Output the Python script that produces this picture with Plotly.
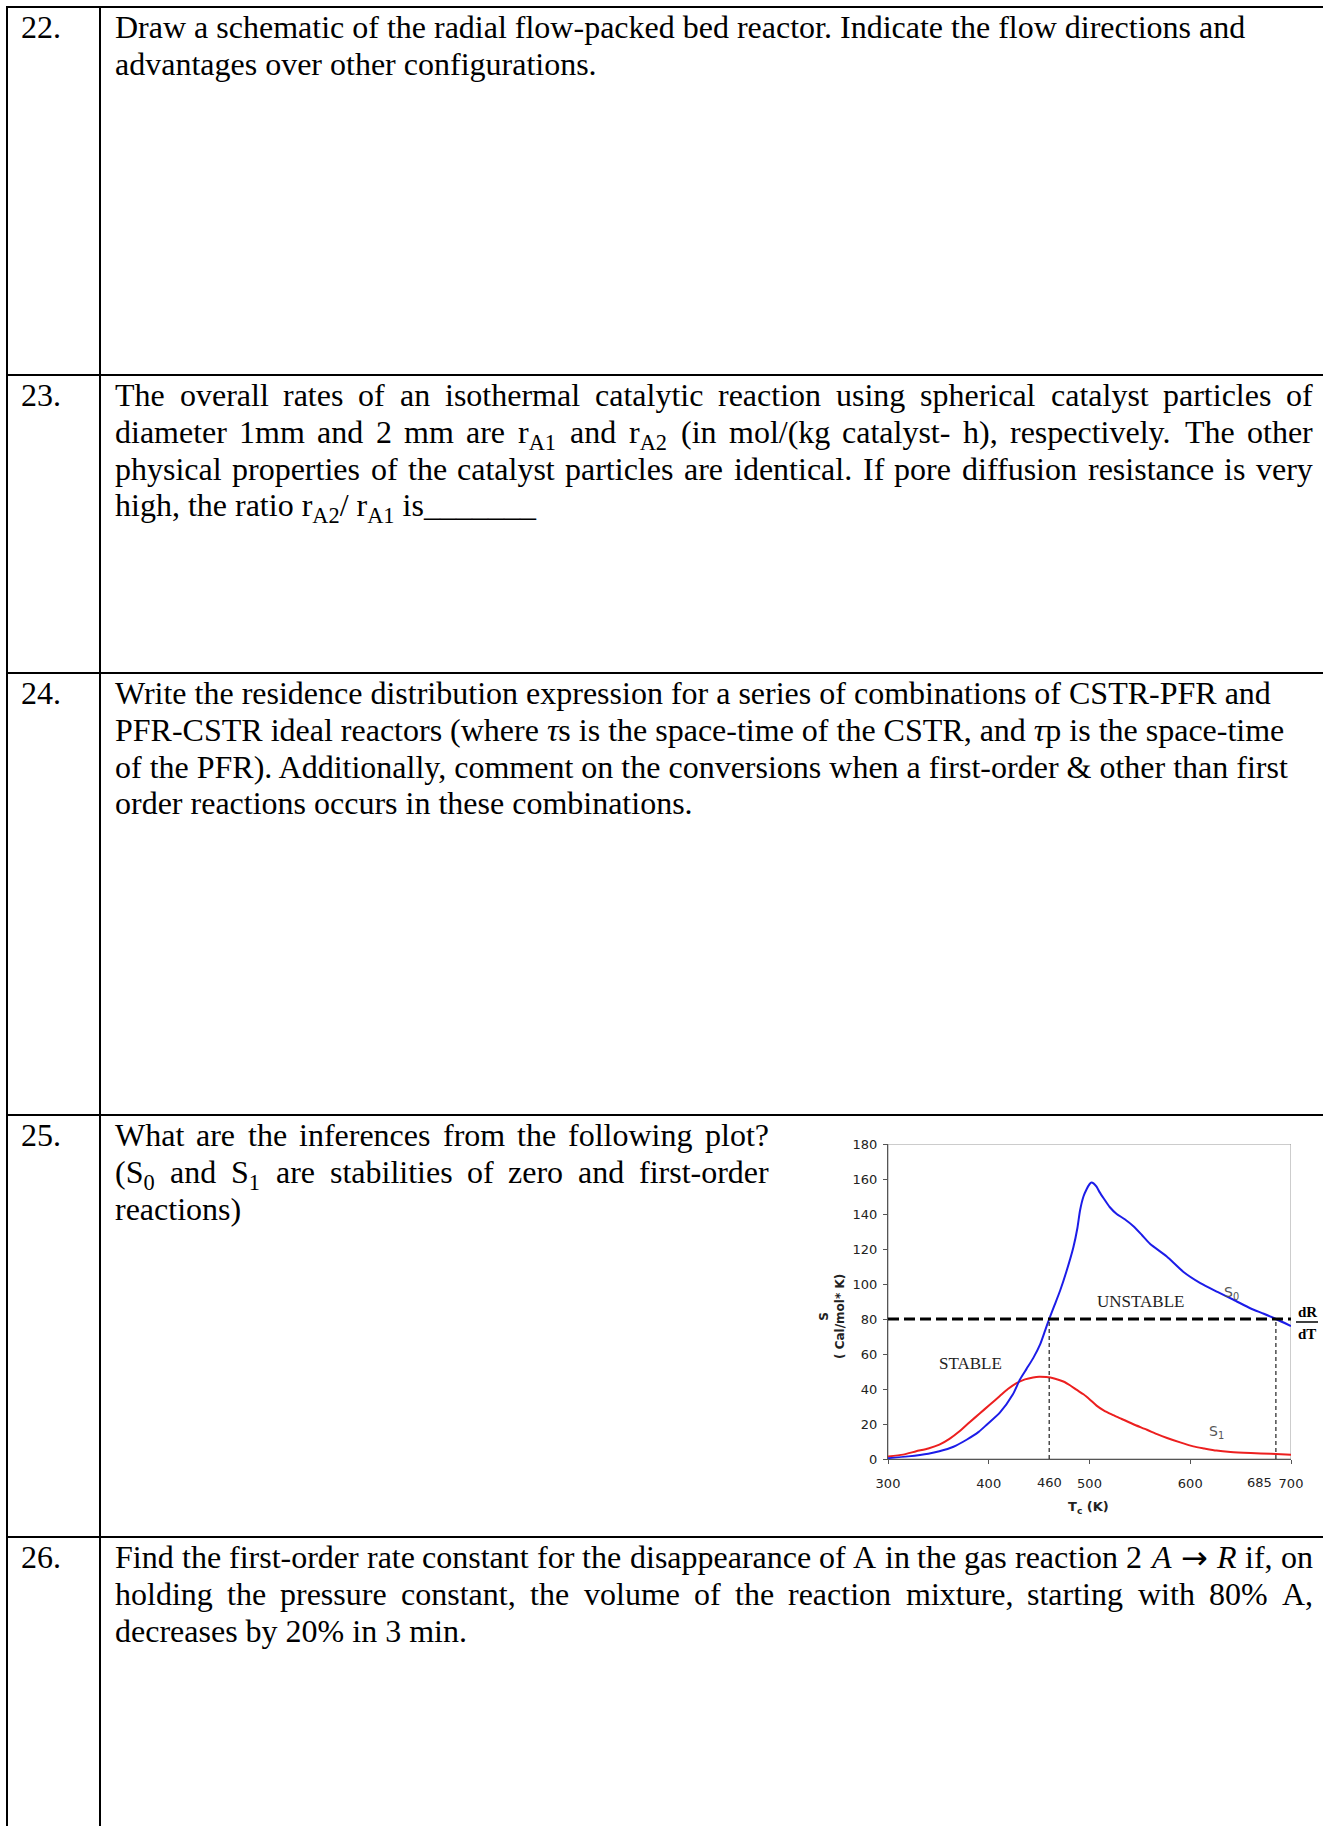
import re
import plotly.graph_objects as go

W, H = 1323, 1826

# ---------------- stability curves (S vs coolant temperature) ----------------
tc_s0 = [300, 320, 340, 351, 365, 378, 390, 398, 411, 424, 431, 437.5, 444, 451, 456, 460,
         465, 470.7, 477, 484, 488, 490.6, 494, 497, 500, 502, 504, 507, 510, 514, 520, 527,
         535, 543.6, 552, 560, 576.7, 593, 610, 627, 643, 660, 673, 685, 700]
s0 = [0.5, 1.5, 3, 4.4, 7, 11, 15.5, 19.6, 26.5, 37, 45.5, 51.5, 57.5, 65.5, 73.5, 80,
      87.5, 96, 107, 121, 132, 142, 150, 154, 157, 158, 157.5, 155.6, 152.5, 149, 144, 140,
      137, 133, 128, 123, 115.7, 107, 100.5, 95.5, 91, 86, 83, 80, 76]

tc_s1 = [300, 315, 328, 340, 351, 361, 371, 381, 391, 401, 411, 419, 427.6, 436, 444, 450,
         457, 465, 474, 481, 487, 494, 500.5, 507, 514, 522, 530, 543, 557, 567, 577, 590,
         603, 614, 626, 640, 660, 680, 700]
s1 = [1.5, 2.5, 4.4, 6, 8.2, 11.5, 15.8, 21, 26, 31, 36, 40, 43.4, 45.5, 46.6, 47,
      46.8, 46, 44.3, 42, 39.6, 37, 33.9, 30.5, 27.8, 25.5, 23.4, 20, 16.7, 14.2, 12, 9.5,
      7.2, 6, 4.8, 4, 3.4, 3, 2.5]

dR_dT = 80                     # heat-removal slope line
tc_marked = [460, 685]         # intersections with S0
x_ticks = [300, 400, 500, 600, 700]
y_ticks = [0, 20, 40, 60, 80, 100, 120, 140, 160, 180]

# ---------------- question table ----------------
q_numbers = ["22.", "23.", "24.", "25.", "26."]
row_tops = [7, 375, 673, 1115, 1537]
row_right = [1313, 1313, 1313, 769, 1313]

q_lines = [
    [("Draw a schematic of the radial flow-packed bed reactor. Indicate the flow directions and", False),
     ("advantages over other configurations.", False)],
    [("The overall rates of an isothermal catalytic reaction using spherical catalyst particles of", True),
     ("diameter 1mm and 2 mm are r<sub>A1</sub> and r<sub>A2</sub> (in mol/(kg catalyst- h), respectively. The other", True),
     ("physical properties of the catalyst particles are identical. If pore diffusion resistance is very", True),
     ("high, the ratio r<sub>A2</sub>/ r<sub>A1</sub> is_______", False)],
    [("Write the residence distribution expression for a series of combinations of CSTR-PFR and", False),
     ("PFR-CSTR ideal reactors (where <i>τ</i>s is the space-time of the CSTR, and <i>τ</i>p is the space-time", False),
     ("of the PFR). Additionally, comment on the conversions when a first-order &amp; other than first", False),
     ("order reactions occurs in these combinations.", False)],
    [("What are the inferences from the following plot?", True),
     ("(S<sub>0</sub> and S<sub>1</sub> are stabilities of zero and first-order", True),
     ("reactions)", False)],
    [("Find the first-order rate constant for the disappearance of A in the gas reaction 2 <i>A</i> → <i>R</i> if, on", True),
     ("holding the pressure constant, the volume of the reaction mixture, starting with 80% A,", True),
     ("decreases by 20% in 3 min.", False)],
]

SERIF = "Liberation Serif, Times New Roman, serif"
SANS = "DejaVu Sans, Verdana, sans-serif"
ARROW_FONT = "DejaVu Sans"
FS = 32            # body font size (px)
LINE_H = 36.8      # line pitch
ASC = 0.891        # serif ascent (em)
TEXT_X = 115
NUM_X = 21

# Times-style advance widths (1/1000 em) used to lay out justified lines
_chars = (" !\"#$%&'()*+,-./0123456789:;<=>?@ABCDEFGHIJKLMNOPQRSTUVWXYZ[\\]^_`"
          "abcdefghijklmnopqrstuvwxyz{|}~")
_adv = [250, 333, 408, 500, 500, 833, 778, 180, 333, 333, 500, 564, 250, 333, 250, 278,
        500, 500, 500, 500, 500, 500, 500, 500, 500, 500, 278, 278, 564, 564, 564, 444, 921,
        722, 667, 667, 722, 611, 556, 722, 722, 333, 389, 722, 611, 889, 722, 722, 556, 722,
        667, 556, 611, 722, 722, 944, 722, 722, 611, 333, 278, 333, 469, 500, 333,
        444, 500, 444, 500, 444, 333, 500, 500, 278, 278, 500, 278, 778, 500, 500, 500, 500,
        333, 389, 278, 500, 500, 722, 500, 500, 444, 480, 200, 480, 541]
ADV = dict(zip(_chars, _adv))
ADV.update({"τ": 440, "→": 838})
SUB_SCALE = 0.75   # room left for subscripts when spacing words


def text_width(s, size):
    total, scale = 0.0, 1.0
    for tok in re.split(r"(<[^>]+>)", s):
        if tok.startswith("<"):
            if tok == "<sub>":
                scale = SUB_SCALE
            elif tok == "</sub>":
                scale = 1.0
            continue
        for ch in tok.replace("&amp;", "&"):
            total += ADV.get(ch, 500) * scale
    return total / 1000.0 * size


def px(x):
    return x / W


def py(y):
    return 1 - y / H


annotations = []
shapes = []


def body_text(text, x, baseline, anchor="left", size=FS, family=SERIF):
    annotations.append(dict(
        text=text, xref="paper", yref="paper", x=px(x), y=py(baseline - ASC * size),
        xanchor=anchor, yanchor="top", showarrow=False, borderpad=0, borderwidth=0,
        font=dict(family=family, size=size, color="#000")))


for num, top, right, lines in zip(q_numbers, row_tops, row_right, q_lines):
    base0 = top + 30.5
    body_text(num, NUM_X, base0)
    for k, (line, justify) in enumerate(lines):
        b = base0 + k * LINE_H
        if not justify:
            body_text(line, TEXT_X, b)
            continue
        words = line.split(" ")
        widths = [text_width(w, FS) for w in words]
        gap = (right - TEXT_X - sum(widths)) / (len(words) - 1)
        x = TEXT_X
        for i, (w, wd) in enumerate(zip(words, widths)):
            fam = ARROW_FONT if w == "→" else SERIF
            if i == len(words) - 1:
                body_text(w, right, b, anchor="right", family=fam)
            else:
                body_text(w, x, b, family=fam)
            x += wd + gap

# table rules
rule = dict(color="#000", width=2)
for top in row_tops:
    shapes.append(dict(type="line", xref="paper", yref="paper", x0=px(6), x1=1,
                       y0=py(top), y1=py(top), line=rule))
for xv in (7, 100):
    shapes.append(dict(type="line", xref="paper", yref="paper", x0=px(xv), x1=px(xv),
                       y0=py(row_tops[0] - 1), y1=0, line=rule))

# ---------------- chart ----------------
PLOT_L, PLOT_R, PLOT_T, PLOT_B = 888, 1291, 1144, 1459

fig = go.Figure()
fig.add_trace(go.Scatter(x=tc_s1, y=s1, mode="lines", name="S1",
                         line=dict(color="#ec1f1f", width=2, shape="spline", smoothing=0.6),
                         showlegend=False))
fig.add_trace(go.Scatter(x=tc_s0, y=s0, mode="lines", name="S0",
                         line=dict(color="#1c1ce8", width=2, shape="spline", smoothing=0.6),
                         showlegend=False))

# plot-area frame
shapes.append(dict(type="rect", xref="x", yref="y", x0=300, x1=700, y0=0, y1=180,
                   line=dict(color="#9a9a9a", width=1), layer="below"))
# dR/dT line
shapes.append(dict(type="line", xref="x", yref="y", x0=300, x1=700, y0=dR_dT, y1=dR_dT,
                   line=dict(color="#000", width=3.2, dash="11px,5px")))
for t in tc_marked:
    shapes.append(dict(type="line", xref="x", yref="y", x0=t, x1=t, y0=0, y1=dR_dT,
                       line=dict(color="#222", width=1.2, dash="4px,3px")))

tick_font = dict(family=SANS, size=13, color="#222")
annotations.append(dict(text=str(tc_marked[0]), xref="x", yref="paper", x=tc_marked[0],
                        y=py(1482), xanchor="center", yanchor="middle", showarrow=False,
                        font=tick_font))
annotations.append(dict(text=str(tc_marked[1]), xref="x", yref="paper", x=tc_marked[1],
                        y=py(1482), xanchor="right", yanchor="middle", showarrow=False,
                        xshift=-2, font=tick_font))

# axis titles
annotations.append(dict(text="<b>T<sub>c</sub> (K)</b>", xref="paper", yref="paper",
                        x=px(1088), y=py(1507), xanchor="center", yanchor="middle",
                        showarrow=False, font=dict(family=SANS, size=13, color="#222")))
annotations.append(dict(text="<b>S<br>( Cal/mol* K)</b>", xref="paper", yref="paper",
                        x=px(832), y=py(1317), xanchor="center", yanchor="middle",
                        textangle=-90, showarrow=False,
                        font=dict(family=SANS, size=12, color="#222")))

# region and curve labels
annotations += [
    dict(text="UNSTABLE", x=551, y=90, xref="x", yref="y", showarrow=False,
         font=dict(family=SERIF, size=17, color="#222")),
    dict(text="STABLE", x=382, y=54.7, xref="x", yref="y", showarrow=False,
         font=dict(family=SERIF, size=17, color="#222")),
    dict(text="S<sub>0</sub>", x=641, y=95, xref="x", yref="y", showarrow=False,
         font=dict(family=SANS, size=14, color="#555")),
    dict(text="S<sub>1</sub>", x=626, y=15.6, xref="x", yref="y", showarrow=False,
         font=dict(family=SANS, size=14, color="#555")),
    dict(text="<b>dR</b>", xref="paper", yref="paper", x=px(1307), y=py(1312),
         xanchor="center", yanchor="middle", showarrow=False,
         font=dict(family=SERIF, size=15, color="#000")),
    dict(text="<b>dT</b>", xref="paper", yref="paper", x=px(1307), y=py(1334),
         xanchor="center", yanchor="middle", showarrow=False,
         font=dict(family=SERIF, size=15, color="#000")),
]
shapes.append(dict(type="line", xref="paper", yref="paper", x0=px(1296), x1=px(1318),
                   y0=py(1322), y1=py(1322), line=dict(color="#000", width=1.5)))

axis_common = dict(ticks="outside", ticklen=4, tickcolor="#555", showline=True,
                   linecolor="#555", linewidth=1, showgrid=False, zeroline=False,
                   tickfont=tick_font, fixedrange=True, automargin=False)

fig.update_layout(
    template="none",
    width=W, height=H, autosize=False,
    margin=dict(l=0, r=0, t=0, b=0, pad=0, autoexpand=False),
    paper_bgcolor="white", plot_bgcolor="white",
    showlegend=False,
    annotations=annotations, shapes=shapes,
    xaxis=dict(domain=[px(PLOT_L), px(PLOT_R)], range=[300, 700], tickvals=x_ticks,
               ticklabelstandoff=8, **axis_common),
    yaxis=dict(domain=[py(PLOT_B), py(PLOT_T)], range=[0, 180], tickvals=y_ticks,
               ticklabelstandoff=3, **axis_common),
)

# page body without default margin so the figure fills the window exactly
fig.write_html("out.html",
               config={"responsive": False, "displayModeBar": False},
               post_script="document.body.style.margin='0';document.body.style.overflow='hidden';")
